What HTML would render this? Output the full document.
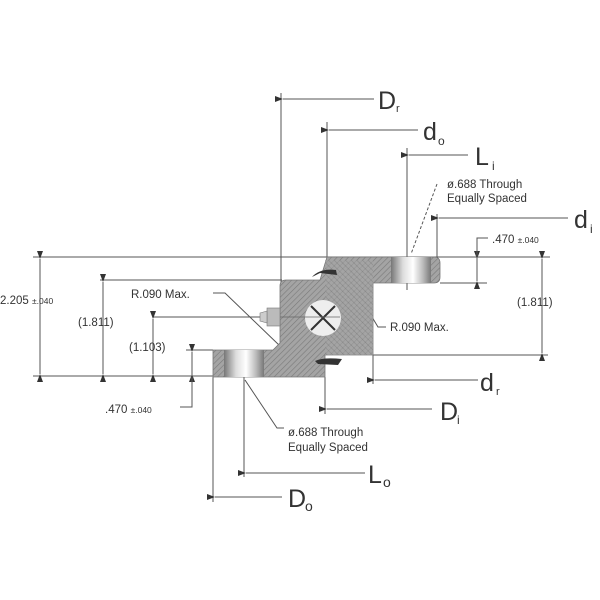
<!DOCTYPE html>
<html><head><style>
html,body{margin:0;padding:0;background:#fff;}
svg{display:block;}
text{font-family:"Liberation Sans",sans-serif;fill:#333;}
</style></head><body>
<svg width="600" height="600" viewBox="0 0 600 600" xmlns="http://www.w3.org/2000/svg">
<defs>
<pattern id="h" width="4" height="4" patternUnits="userSpaceOnUse" patternTransform="rotate(45)">
<rect width="4" height="4" fill="#a4a4a4"/><line x1="0" y1="0" x2="0" y2="4" stroke="#7a7a7a" stroke-width="1.2"/>
</pattern>
<pattern id="h2" width="4" height="4" patternUnits="userSpaceOnUse" patternTransform="rotate(-45)">
<rect width="4" height="4" fill="#a4a4a4"/><line x1="0" y1="0" x2="0" y2="4" stroke="#7a7a7a" stroke-width="1.2"/>
</pattern>
<linearGradient id="g" x1="0" x2="1" y1="0" y2="0">
<stop offset="0" stop-color="#777"/><stop offset="0.3" stop-color="#ddd"/><stop offset="0.55" stop-color="#fff"/><stop offset="0.8" stop-color="#bbb"/><stop offset="1" stop-color="#777"/>
</linearGradient>
<marker id="a" markerWidth="8" markerHeight="6" refX="0" refY="3" orient="auto-start-reverse" markerUnits="userSpaceOnUse">
<path d="M0,3 L8,0 L8,6 z" fill="#333"/></marker>
</defs>

<g stroke="#555" stroke-width="1" fill="none">
<line x1="33" y1="257" x2="550" y2="257"/>
<line x1="100" y1="280" x2="282" y2="280"/>
<line x1="153" y1="317" x2="272" y2="317"/>
<line x1="186" y1="350" x2="213" y2="350"/>
<line x1="33" y1="376" x2="213" y2="376"/>
<line x1="440" y1="283" x2="487" y2="283"/>
<line x1="373" y1="355" x2="548" y2="355"/>
<line x1="281" y1="93" x2="281" y2="282"/>
<line x1="327" y1="122" x2="327" y2="258"/>
<line x1="407" y1="148" x2="407" y2="290"/>
<line x1="437" y1="214" x2="437" y2="258"/>
<line x1="373" y1="355" x2="373" y2="384"/>
<line x1="325" y1="377" x2="325" y2="414"/>
<line x1="244" y1="377" x2="244" y2="477"/>
<line x1="213" y1="377" x2="213" y2="502"/>
<line x1="283" y1="99" x2="374" y2="99" marker-start="url(#a)"/>
<line x1="329" y1="130" x2="418" y2="130" marker-start="url(#a)"/>
<line x1="409" y1="155" x2="468" y2="155" marker-start="url(#a)"/>
<line x1="439" y1="218" x2="568" y2="218" marker-start="url(#a)"/>
<line x1="375" y1="380" x2="478" y2="380" marker-start="url(#a)"/>
<line x1="327" y1="409" x2="432" y2="409" marker-start="url(#a)"/>
<line x1="246" y1="473" x2="365" y2="473" marker-start="url(#a)"/>
<line x1="215" y1="497" x2="282" y2="497" marker-start="url(#a)"/>
<line x1="40" y1="259" x2="40" y2="374" marker-start="url(#a)" marker-end="url(#a)"/>
<line x1="103" y1="282" x2="103" y2="374" marker-start="url(#a)" marker-end="url(#a)"/>
<line x1="153" y1="319" x2="153" y2="374" marker-start="url(#a)" marker-end="url(#a)"/>
<line x1="192" y1="352" x2="192" y2="374" marker-start="url(#a)" marker-end="url(#a)"/>
<polyline points="192,374 192,407 180,407"/>
<line x1="542" y1="259" x2="542" y2="353" marker-start="url(#a)" marker-end="url(#a)"/>
<line x1="477" y1="259" x2="477" y2="281" marker-start="url(#a)" marker-end="url(#a)"/>
<polyline points="477,259 477,238 488,238"/>
<polyline points="213,293 225,293 280,346"/>
<polyline points="386,327 378,327 357,292"/>
<line x1="437" y1="184" x2="411" y2="254" stroke-dasharray="3,2"/>
<polyline points="245,380 277,428 284,428"/>
</g>

<path d="M327,257 L434,257 Q440,257 440,263 L440,277 Q440,283 434,283 L373,283 L373,355 L325,355 L325,377 L213,377 L213,350 L273,350 L280,343 L280,286 Q280,280 286,280 L320,280 Z" fill="url(#h)" stroke="#777" stroke-width="0.8"/>
<path d="M325,260 L373,260 L373,283 L373,355 L325,355 L325,300 Z" fill="url(#h2)" opacity="0.6"/>
<rect x="391" y="257" width="40" height="26" fill="url(#g)"/>
<rect x="224" y="350" width="40" height="27" fill="url(#g)"/>
<circle cx="323" cy="318" r="18" fill="#eee"/>
<g stroke="#333" stroke-width="2"><line x1="311" y1="306" x2="335" y2="330"/><line x1="335" y1="306" x2="311" y2="330"/></g>
<line x1="262" y1="317" x2="340" y2="317" stroke="#666" stroke-width="0.8"/>
<rect x="267" y="308" width="13" height="18" fill="#bbb" stroke="#777" stroke-width="0.6"/>
<path d="M260,313 L267,311 L267,323 L260,321 Z" fill="#ccc" stroke="#777" stroke-width="0.6"/>
<path d="M312,277 Q320,268 336,270 L337,275 L320,273 Z" fill="#333"/>
<path d="M315,361 Q323,357 342,359 L338,365 L318,364 Z" fill="#333"/>

<text x="378" y="109" font-size="25">D</text><text x="396" y="112" font-size="11">r</text>
<text x="423" y="140" font-size="25">d</text><text x="438" y="145" font-size="12">o</text>
<text x="475" y="165" font-size="25">L</text><text x="492" y="170" font-size="12">i</text>
<text x="574" y="228" font-size="25">d</text><text x="590" y="233" font-size="12">i</text>
<text x="480" y="391" font-size="25">d</text><text x="496" y="395" font-size="11">r</text>
<text x="440" y="420" font-size="25">D</text><text x="457" y="424" font-size="12">i</text>
<text x="368" y="483" font-size="25">L</text><text x="383" y="487" font-size="14">o</text>
<text x="288" y="507" font-size="25">D</text><text x="305" y="511" font-size="14">o</text>
<text x="447" y="188" font-size="11.5">ø.688 Through</text>
<text x="447" y="202" font-size="11.5">Equally Spaced</text>
<text x="288" y="436" font-size="11.5">ø.688 Through</text>
<text x="288" y="451" font-size="11.5">Equally Spaced</text>
<text x="131" y="298" font-size="11.5">R.090 Max.</text>
<text x="390" y="331" font-size="11.5">R.090 Max.</text>
<text x="492" y="243" font-size="11.5">.470 <tspan font-size="8.5">±.040</tspan></text>
<text x="105" y="413" font-size="11.5">.470 <tspan font-size="8.5">±.040</tspan></text>
<text x="0" y="304" font-size="11.5">2.205 <tspan font-size="8.5">±.040</tspan></text>
<text x="78" y="326" font-size="11.5">(1.811)</text>
<text x="129" y="351" font-size="11.5">(1.103)</text>
<text x="517" y="306" font-size="11.5">(1.811)</text>
</svg>
</body></html>
